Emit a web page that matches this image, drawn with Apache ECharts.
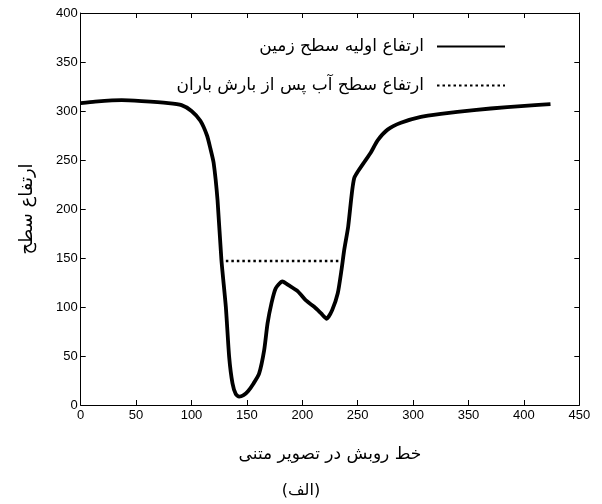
<!DOCTYPE html>
<html>
<head>
<meta charset="utf-8">
<script src="https://cdn.jsdelivr.net/npm/echarts@6/dist/echarts.min.js"></script>
<style>html,body{margin:0;padding:0;background:#fff}#c{width:602px;height:504px}</style>
</head>
<body>
<div id="c"></div>
<script>
// Ground profile: x positions along scan line and heights
const groundX = [0,13,37,55,79,91,100,108,114,117,120,123.5,127,131,134,137,140,143,147,151,156,161,165.6,168.6,172.2,176,182,188,196,203,211,217,222,227,232,235.4,237.8,241.4,244,245.5,247,250,256,262,268,277,289,307,325,355,385,410,424];
const groundY = [308,309.5,311,310,308,306,300,290,275,262,247,209,148,100,49,22,11,8.5,10,14,22,32,56,83,104,119,126,122,116,107,100,93.5,88,97,114,138,158,182,209,223,232,238,248,258,270,281,288,294,297,301,304,306,307];
// Water level after rain
const waterX = [131,233];
const waterY = [147,147];
const xTicks = [0,50,100,150,200,250,300,350,400,450];
const yTicks = [0,50,100,150,200,250,300,350,400];

const seriesNames = ['ارتفاع اولیه سطح زمین','ارتفاع سطح آب پس از بارش باران'];
const xName = 'خط روبش در تصویر متنی';
const yName = 'ارتفاع سطح';
const caption = '(الف)';

const arabicFont = "'DejaVu Sans', 'Noto Sans', sans-serif";
const numFont = "'Liberation Sans', Arial, sans-serif";

const chart = echarts.init(document.getElementById('c'), null, {renderer:'canvas'});
const axisCommon = {
  type:'value',
  axisLine:{show:true, onZero:false, lineStyle:{color:'#000', width:1}},
  axisTick:{show:true, inside:true, length:5, lineStyle:{color:'#000'}},
  splitLine:{show:false}
};
chart.setOption({
  animation:false,
  backgroundColor:'#fff',
  grid:{left:80.7, right:22.7, top:13, bottom:99, containLabel:false},
  title:{text:caption, left:'center', top:478, textStyle:{fontFamily:arabicFont, fontSize:16, fontWeight:'normal', color:'#000'}},
  legend:{
    orient:'vertical', right:91, top:33, align:'right', itemGap:22,
    itemWidth:68, itemHeight:18,
    itemStyle:{opacity:0},
    textStyle:{fontFamily:arabicFont, fontSize:17, color:'#000', padding:[0,8,0,0]},
    data:seriesNames
  },
  xAxis:[
    Object.assign({}, axisCommon, {min:0, max:450, interval:50, position:'bottom',
      name:xName, nameLocation:'middle', nameGap:41,
      nameTextStyle:{fontFamily:arabicFont, fontSize:17, color:'#000'},
      axisLabel:{color:'#000', fontFamily:numFont, fontSize:13, margin:4,
        formatter:v=>xTicks.includes(v)?String(v):''}}),
    Object.assign({}, axisCommon, {min:0, max:450, interval:50, position:'top', axisLabel:{show:false}})
  ],
  yAxis:[
    Object.assign({}, axisCommon, {min:0, max:400, interval:50, position:'left',
      name:yName, nameLocation:'middle', nameGap:44, nameRotate:90,
      nameTextStyle:{fontFamily:arabicFont, fontSize:18, color:'#000'},
      axisLabel:{color:'#000', fontFamily:numFont, fontSize:13, margin:3,
        formatter:v=>yTicks.includes(v)?String(v):''}}),
    Object.assign({}, axisCommon, {min:0, max:400, interval:50, position:'right', axisLabel:{show:false}})
  ],
  series:[
    {name:seriesNames[0], type:'line', symbol:'none', smooth:0.2,
      data:groundX.map((x,i)=>[x,groundY[i]]),
      lineStyle:{color:'#000', width:3.8}, itemStyle:{color:'#000'}},
    {name:seriesNames[1], type:'line', symbol:'none',
      data:waterX.map((x,i)=>[x,waterY[i]]),
      lineStyle:{color:'#000', width:2.5, type:[2.5,3]}, itemStyle:{color:'#000'}}
  ]
});
</script>
</body>
</html>
